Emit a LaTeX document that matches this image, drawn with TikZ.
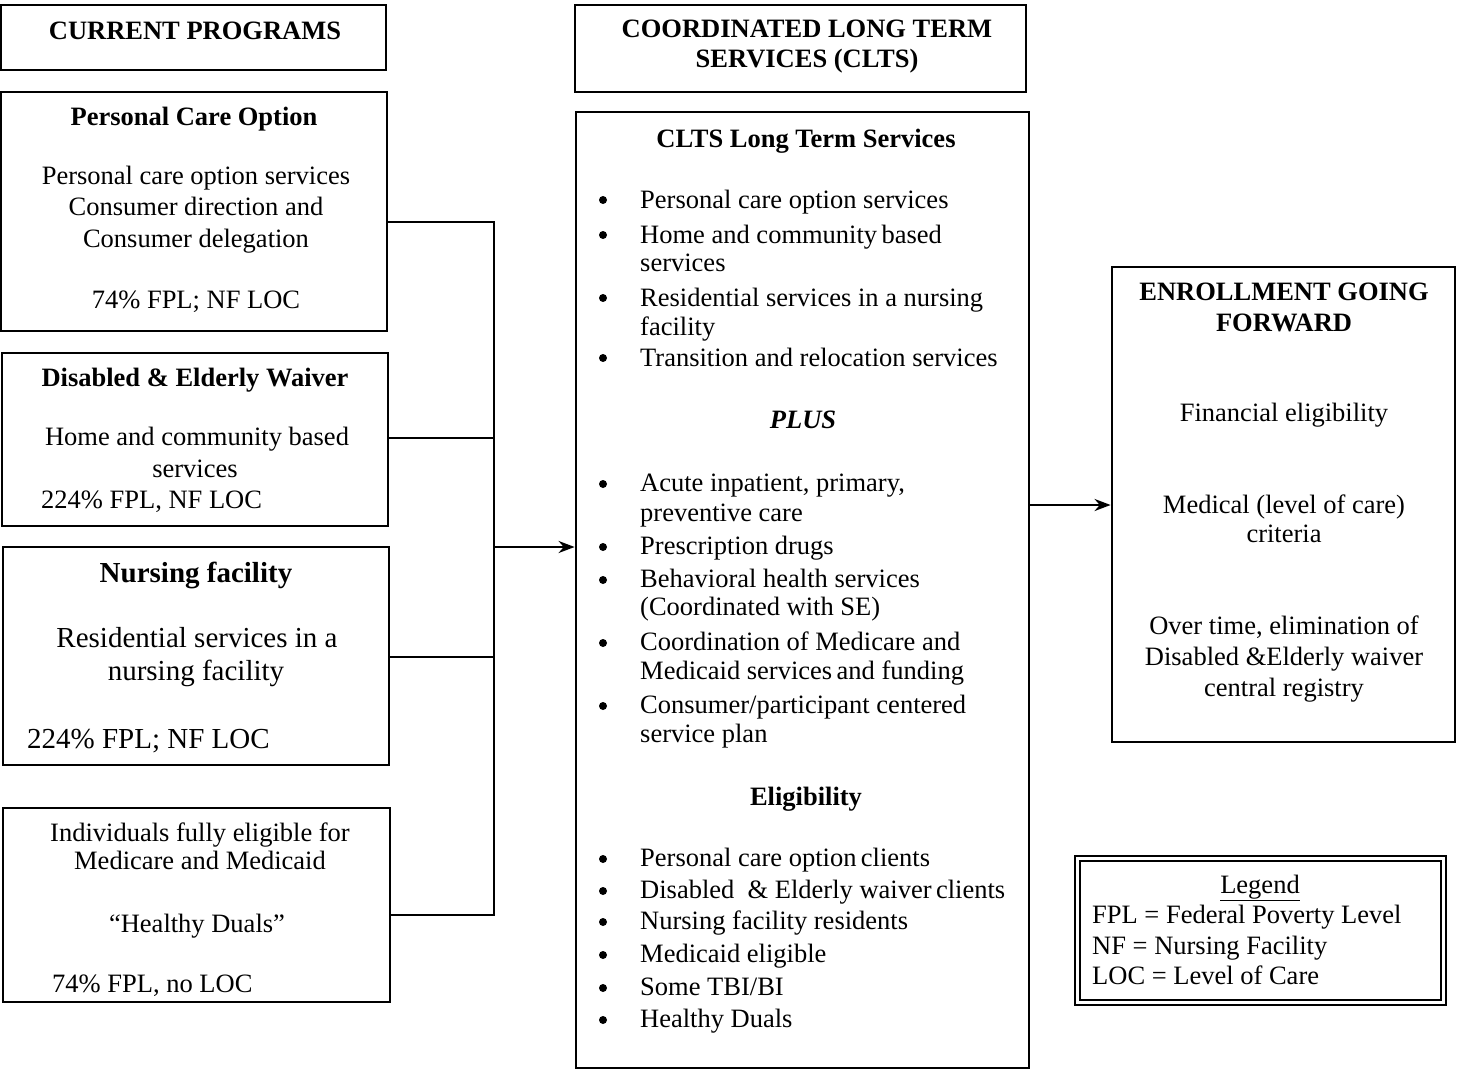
\documentclass[tikz,border=0pt]{standalone}
\usepackage{fontspec}
\setmainfont{Liberation Serif}
\usetikzlibrary{arrows.meta,fit}
\tikzset{
  box/.style={draw, line width=2.8pt, inner sep=0pt},
  txt/.style={anchor=base, inner sep=0pt, font=\fontsize{26.5}{31}\selectfont},
  txtl/.style={txt, anchor=base west},
  hdr/.style={txt, font=\fontsize{26.5}{31}\selectfont\bfseries},
  bigt/.style={txt, font=\fontsize{29}{34}\selectfont},
  bighdr/.style={txt, font=\fontsize{29}{34}\selectfont\bfseries},
  bul/.style={circle, fill, inner sep=0pt, minimum size=8pt},
  conn/.style={line width=2.4pt},
  arr/.style={conn, -{Stealth[length=16pt,width=12pt]}},
}
\begin{document}
\begin{tikzpicture}[x=1pt,y=-1pt]
\useasboundingbox (0,0) rectangle (1457,1070);

% ---------- boxes ----------
\node[box, fit={(1,5)(386,70)}] (cp) {};
\node[box, fit={(1,92)(387,331)}] (pco) {};
\node[box, fit={(2,353)(388,526)}] (dew) {};
\node[box, fit={(3,547)(389,765)}] (nf) {};
\node[box, fit={(3,808)(390,1002)}] (hd) {};
\node[box, fit={(575,5)(1026,92)}] (ch) {};
\node[box, fit={(576,112)(1029,1068)}] (cl) {};
\node[box, fit={(1112,267)(1455,742)}] (en) {};
\node[draw, double, double distance=3.5pt, line width=1.8pt, inner sep=0pt,
      fit={(1077.5,858.5)(1443.5,1002.5)}] (leg) {};

% ---------- left column text ----------
\node[hdr] (cpT) at (195,40) {CURRENT PROGRAMS};

\node[hdr] (pcoT) at (194,126) {Personal Care Option};
\node[txt] (pco1) at (196,184) {Personal care option services};
\node[txt] (pco2) at (196,215) {Consumer direction and};
\node[txt] (pco3) at (196,247) {Consumer delegation};
\node[txt] (pco4) at (196,308) {74\% FPL; NF LOC};

\node[hdr] (dewT) at (195,386) {Disabled \& Elderly Waiver};
\node[txt] (dew1) at (197,445) {Home and community based};
\node[txt] (dew2) at (195,477) {services};
\node[txtl] (dew3) at (41,508) {224\% FPL, NF LOC};

\node[bighdr] (nfT) at (196,582) {Nursing facility};
\node[bigt] (nf1) at (197,647) {Residential services in a};
\node[bigt] (nf2) at (196,680) {nursing facility};
\node[bigt, anchor=base west] (nf3) at (27,748) {224\% FPL; NF LOC};

\node[txt] (hd1) at (200,841) {Individuals fully eligible for};
\node[txt] (hd2) at (200,869) {Medicare and Medicaid};
\node[txt] (hd3) at (197,932) {``Healthy Duals''};
\node[txtl] (hd4) at (52,992) {74\% FPL, no LOC};

% ---------- middle column text ----------
\node[hdr] (ch1) at (807,38) {COORDINATED LONG TERM};
\node[hdr] (ch2) at (807,68) {SERVICES (CLTS)};

\node[hdr] (clT) at (806,148) {CLTS Long Term Services};
\node[bul] (u1) at (603,200) {};
\node[txtl] (s1) at (640,208) {Personal care option services};
\node[bul] (u2) at (603,235) {};
\node[txtl] (s2) at (640,243) {Home and community\,based};
\node[txtl] (s2b) at (640,271) {services};
\node[bul] (u3) at (603,298) {};
\node[txtl] (s3) at (640,306) {Residential services in a nursing};
\node[txtl] (s3b) at (640,335) {facility};
\node[bul] (u4) at (603,358) {};
\node[txtl] (s4) at (640,366) {Transition and relocation services};

\node[txt, font=\fontsize{26.5}{31}\selectfont\bfseries\itshape] (plus) at (803,428) {PLUS};

\node[bul] (u5) at (603,484) {};
\node[txtl] (p1) at (640,491) {Acute inpatient, primary,};
\node[txtl] (p1b) at (640,521) {preventive care};
\node[bul] (u6) at (603,547) {};
\node[txtl] (p2) at (640,554) {Prescription drugs};
\node[bul] (u7) at (603,580) {};
\node[txtl] (p3) at (640,587) {Behavioral health services};
\node[txtl] (p3b) at (640,615) {(Coordinated with SE)};
\node[bul] (u8) at (603,643) {};
\node[txtl] (p4) at (640,650) {Coordination of Medicare and};
\node[txtl] (p4b) at (640,679) {Medicaid services\,and funding};
\node[bul] (u9) at (603,706) {};
\node[txtl] (p5) at (640,713) {Consumer/participant centered};
\node[txtl] (p5b) at (640,742) {service plan};

\node[hdr] (elT) at (806,805) {Eligibility};
\node[bul] (u10) at (603,859) {};
\node[txtl] (e1) at (640,866) {Personal care option\,clients};
\node[bul] (u11) at (603,891) {};
\node[txtl] (e2) at (640,898) {Disabled \ \& Elderly waiver\,clients};
\node[bul] (u12) at (603,922) {};
\node[txtl] (e3) at (640,929) {Nursing facility residents};
\node[bul] (u13) at (603,955) {};
\node[txtl] (e4) at (640,962) {Medicaid eligible};
\node[bul] (u14) at (603,988) {};
\node[txtl] (e5) at (640,995) {Some TBI/BI};
\node[bul] (u15) at (603,1020) {};
\node[txtl] (e6) at (640,1027) {Healthy Duals};

% ---------- right column text ----------
\node[hdr] (en1) at (1284,300) {ENROLLMENT GOING};
\node[hdr] (en2) at (1284,331) {FORWARD};
\node[txt] (en3) at (1284,421) {Financial eligibility};
\node[txt] (en4) at (1284,513) {Medical (level of care)};
\node[txt] (en5) at (1284,542) {criteria};
\node[txt] (en6) at (1284,634) {Over time, elimination of};
\node[txt] (en7) at (1284,665) {Disabled \&Elderly waiver};
\node[txt] (en8) at (1284,696) {central registry};

% ---------- legend ----------
\node[txt] (lg0) at (1260,893) {\underline{Legend}};
\node[txtl] (lg1) at (1092,923) {FPL = Federal Poverty Level};
\node[txtl] (lg2) at (1092,954) {NF = Nursing Facility};
\node[txtl] (lg3) at (1092,984) {LOC = Level of Care};

% ---------- connectors ----------
\coordinate (bTop) at (494,222);
\coordinate (bBot) at (494,915);
\coordinate (bArr) at (494,547);
\draw[conn] (pco.east |- bTop) -- (bTop) -- (bBot) -- (hd.east |- bBot);
\draw[conn] (dew.east |- 0,438) -- (494,438);
\draw[conn] (nf.east |- 0,657) -- (494,657);
\draw[arr] (bArr) -- (cl.west |- bArr);
\draw[arr] (cl.east |- 0,505) -- (en.west |- 0,505);
\end{tikzpicture}
\end{document}
